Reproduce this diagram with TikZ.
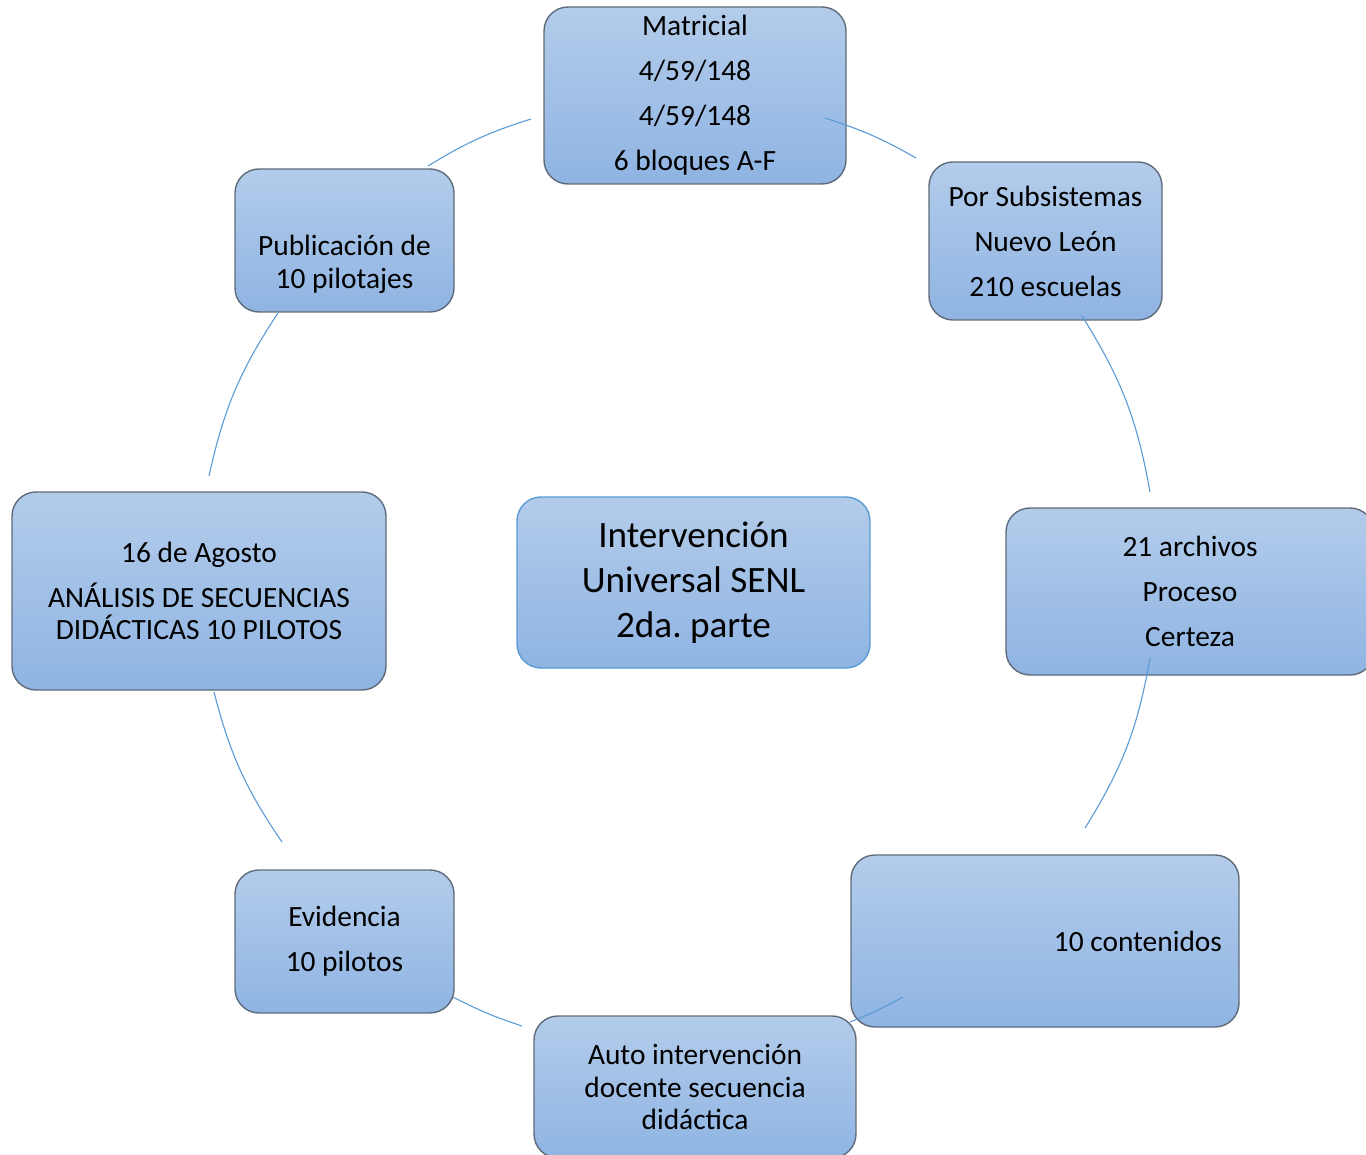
\documentclass[tikz,border=0pt]{standalone}
\usepackage{fontspec}
\setmainfont{Carlito}
\frenchspacing
\usepackage{tikz}
\usetikzlibrary{shapes.geometric, arrows}
\definecolor{boxtop}{RGB}{179,204,234}
\definecolor{boxbot}{RGB}{143,180,227}
\definecolor{boxline}{RGB}{95,107,122}
\definecolor{hubline}{RGB}{91,155,213}
\definecolor{linkblue}{RGB}{91,155,213}
\tikzstyle{block} = [rectangle, rounded corners=12pt, draw=boxline, line width=0.7pt, top color=boxtop, bottom color=boxbot, align=center, inner sep=0pt, font=\fontsize{14.7}{16.25}\selectfont]
\tikzstyle{hub} = [block, draw=hubline, font=\fontsize{18.6}{22.5}\selectfont]
\tikzstyle{link} = [draw=linkblue, line width=0.55pt]

\begin{document}
\begin{tikzpicture}[x=0.5pt, y=0.5pt]
	\useasboundingbox (0,0) rectangle (1366,-1155);

	\node[hub, minimum width=176.5pt, minimum height=85.5pt](centro) at (693.5,-582.5){Intervención\\Universal SENL\\2da. parte};
	\node[block, minimum width=151pt, minimum height=88.5pt](matricial) at (695,-95.5){Matricial\\[6.25pt]4/59/148\\[6.25pt]4/59/148\\[6.25pt]6 bloques A-F};
	\node[block, minimum width=116.5pt, minimum height=79pt](subsistemas) at (1045.5,-241){Por Subsistemas\\[6.25pt]Nuevo León\\[6.25pt]210 escuelas};
	\node[block, minimum width=184pt, minimum height=83.5pt](archivos) at (1190,-591.5){21 archivos\\[6.25pt]Proceso\\[6.25pt]Certeza};
	\node[block, minimum width=194pt, minimum height=86pt, text width=177pt, align=flush right](contenidos) at (1045,-941){10 contenidos};
	\node[block, minimum width=161pt, minimum height=71pt](auto) at (695,-1087){Auto intervención\\docente secuencia\\didáctica};
	\node[block, minimum width=109.5pt, minimum height=71.5pt](evidencia) at (344.5,-941.5){Evidencia\\[6.25pt]10 pilotos};
	\node[block, minimum width=187pt, minimum height=99pt](agosto) at (199,-591){16 de Agosto\\[6.25pt]ANÁLISIS DE SECUENCIAS\\DIDÁCTICAS 10 PILOTOS};
	\node[block, minimum width=109.5pt, minimum height=71.5pt](publicacion) at (344.5,-240.5){\strut\\[6.25pt]Publicación de\\10 pilotajes};

	% extremos de los arcos
	\coordinate (mat-w) at (531,-119);
	\coordinate (pub-n) at (428,-166);
	\coordinate (mat-e) at (825,-118);
	\coordinate (sub-w) at (916,-158);
	\coordinate (sub-s) at (1082,-316);
	\coordinate (arc-n) at (1150,-492);
	\coordinate (arc-s) at (1150,-658);
	\coordinate (con-n) at (1085,-828);
	\coordinate (con-w) at (903,-997);
	\coordinate (aut-e) at (850,-1022);
	\coordinate (aut-w) at (522,-1026);
	\coordinate (evi-e) at (453,-997);
	\coordinate (evi-n) at (282,-842);
	\coordinate (ago-s) at (214,-692);
	\coordinate (ago-n) at (209,-476);
	\coordinate (pub-s) at (278,-313);

	\draw[link] (sub-w) to[bend right=6] (mat-e);
	\draw[link] (mat-w) to[bend right=7] (pub-n);
	\draw[link] (arc-n) to[bend right=11] (sub-s);
	\draw[link] (con-n) to[bend right=11] (arc-s);
	\draw[link] (aut-e) to[bend right=3.5] (con-w);
	\draw[link] (evi-e) to[bend right=4.5] (aut-w);
	\draw[link] (ago-s) to[bend right=10] (evi-n);
	\draw[link] (pub-s) to[bend right=10.5] (ago-n);
\end{tikzpicture}
\end{document}
